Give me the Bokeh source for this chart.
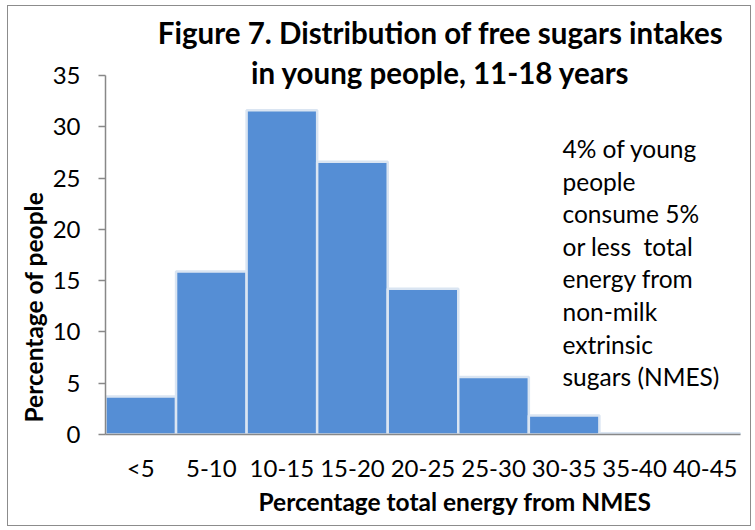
import math
from bokeh.plotting import figure
from bokeh.models import Label, FixedTicker, Range1d, ColumnDataSource, Title
from bokeh.embed import file_html
from bokeh.resources import INLINE

categories = ["<5", "5-10", "10-15", "15-20", "20-25", "25-30", "30-35", "35-40", "40-45"]
percentages = [3.7, 15.9, 31.6, 26.6, 14.2, 5.6, 1.85, 0.12, 0.12]
y_ticks = [0, 5, 10, 15, 20, 25, 30, 35]
note_lines = ["4% of young", "people", "consume 5%", "or less\u00a0\u00a0total",
              "energy from", "non-milk", "extrinsic", "sugars (NMES)"]
title_lines = ["Figure 7. Distribution of free sugars intakes",
               "in young people, 11-18 years"]
x_title = "Percentage total energy from NMES"
y_title = "Percentage of people"

FONT = "Lato"
Y_AXIS_MAX = 35
Y_VIEW_TOP = 41.14  # frame extends above the axis so the title can sit inside it

pos = [i + 0.5 for i in range(len(categories))]
src = ColumnDataSource(dict(x=pos, top=percentages))

p = figure(width=744, height=521, output_backend="svg", toolbar_location=None,
           x_range=Range1d(0, len(categories)), y_range=Range1d(0, Y_VIEW_TOP),
           min_border_left=97, min_border_right=12, min_border_top=6, min_border_bottom=93)
p.styles = {"border": "1px solid #8c8c8c", "margin-left": "7px", "margin-top": "5px"}
p.outline_line_color = None
p.xgrid.visible = False
p.ygrid.visible = False

p.vbar(x="x", top="top", width=1.0, bottom=0, source=src,
       fill_color="#558ed5", line_color="#dae5f2", line_width=2.5)

# axes
p.yaxis.ticker = FixedTicker(ticks=y_ticks)
p.yaxis.bounds = (0, Y_AXIS_MAX)
p.yaxis.minor_tick_line_color = None
p.yaxis.major_tick_out = 7
p.yaxis.major_tick_in = 0
p.yaxis.axis_line_color = "#888888"
p.yaxis.major_tick_line_color = "#888888"
p.yaxis.axis_line_width = 1.5
p.yaxis.major_tick_line_width = 1.5
p.yaxis.major_label_text_font = FONT
p.yaxis.major_label_text_font_size = "24px"
p.yaxis.major_label_text_color = "#000000"
p.yaxis.major_label_standoff = 18

p.xaxis.ticker = FixedTicker(ticks=pos)
p.xaxis.major_label_overrides = {x: c for x, c in zip(pos, categories)}
p.xaxis.minor_tick_line_color = None
p.xaxis.major_tick_out = 0
p.xaxis.major_tick_in = 0
p.xaxis.axis_line_color = "#888888"
p.xaxis.axis_line_width = 1.5
p.xaxis.major_label_text_font = FONT
p.xaxis.major_label_text_font_size = "24px"
p.xaxis.major_label_text_color = "#000000"
p.xaxis.major_label_standoff = 18

# axis titles as side-panel titles (left-aligned with offsets)
p.add_layout(Title(text=x_title, align="left", offset=153, standoff=1,
                   text_font=FONT, text_font_style="bold", text_font_size="24.5px",
                   text_color="#000000"), "below")
p.add_layout(Title(text=y_title, align="left", offset=12, standoff=4,
                   text_font=FONT, text_font_style="bold", text_font_size="24.5px",
                   text_color="#000000"), "left")

# main title, two lines, inside the (taller) frame
for t, yy in zip(title_lines, [402, 362]):
    p.add_layout(Label(x=335, y=yy, x_units="screen", y_units="screen", text=t,
                       text_font=FONT, text_font_style="bold", text_font_size="29.5px",
                       text_align="center", text_baseline="middle", text_color="#000000"))

note_y = [286, 253.4, 220.8, 188.2, 155.6, 123, 90.4, 57.8]
for t, yy in zip(note_lines, note_y):
    p.add_layout(Label(x=457, y=yy, x_units="screen", y_units="screen", text=t,
                       text_font=FONT, text_font_size="24.5px",
                       text_align="left", text_baseline="middle", text_color="#000000"))

open("out.html", "w").write(file_html(p, INLINE))
